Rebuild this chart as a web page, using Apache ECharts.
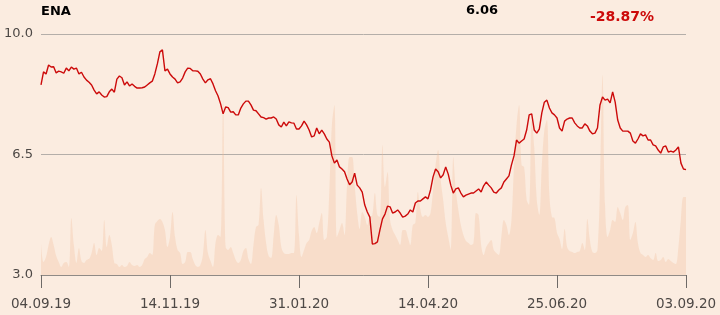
<!DOCTYPE html>
<html>
<head>
<meta charset="utf-8">
<script src="https://cdn.jsdelivr.net/npm/echarts@6/dist/echarts.min.js"></script>
<style>
html,body{margin:0;padding:0;background:#fbece0;}
#chart{width:720px;height:315px;}
</style>
</head>
<body>
<div id="chart"></div>
<script>
// ENA daily close (EUR), 04.09.19 - 03.09.20, trading days
var prices = [
8.52,8.90,8.84,9.10,9.04,9.05,8.87,8.92,8.90,8.86,9.01,8.93,9.04,8.98,9.01,8.84,8.89,8.75,8.66,8.60,
8.52,8.37,8.26,8.32,8.23,8.17,8.18,8.32,8.40,8.31,8.69,8.78,8.73,8.52,8.61,8.49,8.55,8.48,8.43,8.43,
8.44,8.46,8.52,8.58,8.63,8.84,9.13,9.48,9.54,8.93,8.98,8.84,8.75,8.69,8.58,8.61,8.72,8.90,9.01,9.00,
8.93,8.93,8.92,8.84,8.69,8.58,8.67,8.70,8.55,8.35,8.20,7.97,7.68,7.88,7.86,7.73,7.74,7.65,7.65,7.85,
7.97,8.05,8.05,7.94,7.79,7.77,7.68,7.59,7.57,7.53,7.56,7.56,7.59,7.53,7.36,7.30,7.44,7.33,7.45,7.42,
7.41,7.24,7.24,7.33,7.47,7.36,7.21,7.01,7.04,7.27,7.10,7.21,7.10,6.95,6.86,6.46,6.25,6.34,6.14,6.08,
6.00,5.79,5.62,5.70,5.96,5.61,5.53,5.41,5.03,4.83,4.68,3.90,3.91,3.96,4.31,4.63,4.77,5.00,4.98,4.80,
4.83,4.89,4.80,4.68,4.71,4.77,4.89,4.83,5.09,5.15,5.15,5.21,5.27,5.21,5.47,5.85,6.08,6.00,5.82,5.91,
6.14,5.93,5.61,5.38,5.50,5.53,5.38,5.27,5.32,5.35,5.38,5.38,5.44,5.50,5.41,5.59,5.70,5.61,5.53,5.41,
5.38,5.47,5.53,5.70,5.79,5.88,6.20,6.46,6.92,6.83,6.89,6.95,7.21,7.65,7.68,7.21,7.12,7.24,7.71,8.02,
8.08,7.85,7.71,7.65,7.56,7.27,7.18,7.47,7.53,7.56,7.56,7.42,7.33,7.27,7.27,7.39,7.33,7.18,7.10,7.12,
7.27,7.94,8.17,8.08,8.11,8.00,8.32,8.02,7.50,7.27,7.18,7.18,7.18,7.12,6.89,6.83,6.95,7.10,7.04,7.07,
6.92,6.92,6.78,6.75,6.63,6.54,6.72,6.75,6.57,6.60,6.57,6.63,6.72,6.25,6.08,6.06
];
// traded volume (relative units)
var volumes = [
32,13,18,30,38,30,19,13,8,12,13,8,57,30,12,27,14,12,15,16,
22,32,20,27,24,55,28,40,30,12,11,8,10,8,9,13,10,9,10,8,
10,16,18,22,20,50,54,56,53,45,28,38,63,38,25,22,11,13,23,23,
16,10,8,10,20,45,22,14,8,32,40,38,175,28,25,28,22,15,12,15,
24,27,16,11,30,48,50,87,55,32,19,17,40,60,50,28,22,21,21,22,
22,80,40,18,25,32,35,44,48,42,52,62,35,38,85,150,170,38,45,52,
40,90,118,118,90,62,46,63,58,50,58,60,82,60,58,130,88,103,55,45,
40,35,30,45,45,38,30,50,52,83,65,58,60,58,62,85,110,125,95,75,
52,38,25,118,85,65,50,40,34,32,30,32,62,60,30,20,28,32,35,25,
22,20,38,55,50,40,55,110,150,170,110,108,75,70,155,128,75,60,110,145,
155,80,58,57,42,36,26,46,28,24,23,22,23,24,32,25,56,35,23,22,
25,90,200,70,38,45,55,53,68,62,55,68,70,35,42,53,32,22,20,18,
20,17,15,22,14,15,18,13,16,14,12,11,28,56,78,78
];
var tickLabels = ['04.09.19','14.11.19','31.01.20','14.04.20','25.06.20','03.09.20'];
var yTicks = [3.0, 6.5, 10.0];
var ticker = 'ENA';
var lastPrice = '6.06';
var change = '-28.87%';

var categories = prices.map(function(_, i){ return String(i); });
var step = (prices.length - 1) / (tickLabels.length - 1);

var chart = echarts.init(document.getElementById('chart'), null, {renderer:'canvas'});
chart.setOption({
  backgroundColor: '#fbece0',
  animation: false,
  grid: {left: 41, right: 34, top: 34, bottom: 40},
  xAxis: {
    type: 'category',
    data: categories,
    boundaryGap: false,
    axisLine: {lineStyle: {color: '#8f8a86', width: 1}},
    axisTick: {
      show: true, length: 13,
      interval: function(i){ return Math.abs(i/step - Math.round(i/step)) < 1e-6; },
      lineStyle: {color: '#6e6a67'}
    },
    axisLabel: {
      interval: function(i){ return Math.abs(i/step - Math.round(i/step)) < 1e-6; },
      formatter: function(v, i){ return tickLabels[Math.round(i/step)]; },
      color: '#4d4845', fontFamily: 'DejaVu Sans', fontSize: 13.5, margin: 22
    },
    splitLine: {show: false}
  },
  yAxis: [{
    type: 'value',
    min: yTicks[0], max: yTicks[yTicks.length-1], interval: yTicks[1]-yTicks[0],
    axisLine: {show: false},
    axisTick: {show: false},
    axisLabel: {formatter: function(v){ return v.toFixed(1); }, color: '#4d4845',
      fontFamily: 'DejaVu Sans', fontSize: 13, margin: 8},
    splitLine: {show: true, lineStyle: {color: '#b4aea9', width: 1}}
  },{
    type: 'value', min: 0, max: 241, show: false,
    splitLine: {show: false}
  }],
  series: [{
    type: 'line',
    yAxisIndex: 1,
    data: volumes,
    symbol: 'none',
    smooth: 0.35,
    lineStyle: {width: 0},
    areaStyle: {color: 'rgba(240,188,148,0.42)'},
    z: 1
  },{
    type: 'line',
    yAxisIndex: 0,
    data: prices,
    symbol: 'none',
    lineStyle: {color: '#cc0a0a', width: 1.4},
    z: 3
  }],
  graphic: [
    {type:'text', left: 41, top: 5, style:{text: ticker, fill:'#000', font:'bold 13px "DejaVu Sans"'}},
    {type:'text', left: 466, top: 4, style:{text: lastPrice, fill:'#000', font:'bold 13px "DejaVu Sans"'}},
    {type:'text', left: 590, top: 10, style:{text: change, fill:'#cc0a0a', font:'bold 14px "DejaVu Sans"'}}
  ]
});
</script>
</body>
</html>
